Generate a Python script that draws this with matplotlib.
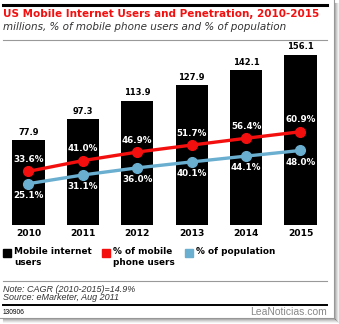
import matplotlib
matplotlib.use('Agg')
import matplotlib.pyplot as plt
from matplotlib.patches import Rectangle
from matplotlib.lines import Line2D

years = ['2010', '2011', '2012', '2013', '2014', '2015']
users = [77.9, 97.3, 113.9, 127.9, 142.1, 156.1]
pct_phone = [33.6, 41.0, 46.9, 51.7, 56.4, 60.9]
pct_pop = [25.1, 31.1, 36.0, 40.1, 44.1, 48.0]

W, H = 339, 324
RED = '#f40f0f'
BLUE = '#6aaed0'
FONT = 'DejaVu Sans'
NOTE_FONT = 'Liberation Sans'


def fx(px):
	return px / W


def fy(py):
	return 1 - py / H


def main():
	fig = plt.figure(figsize=(W / 100, H / 100), dpi=100)
	fig.patch.set_facecolor('white')

	# header rules and titles
	fig.add_artist(Line2D([fx(3), fx(327)], [fy(4.5), fy(4.5)], color='black', lw=2.2))
	fig.text(fx(3), fy(14), 'US Mobile Internet Users and Penetration, 2010-2015',
		color=RED, fontsize=7.45, fontweight='bold', family=FONT, va='center')
	fig.text(fx(3), fy(27), 'millions, % of mobile phone users and % of population',
		color='#333333', fontsize=7.45, style='italic', family=FONT, va='center')
	fig.add_artist(Line2D([fx(3), fx(327)], [fy(39.5), fy(39.5)], color='#999999', lw=0.8))

	# bars
	ax = fig.add_axes([fx(1.3), fy(225), fx(326.4), 180 / H])
	x = list(range(len(years)))
	ax.bar(x, users, width=0.59, color='black', zorder=1)
	for xi, v in zip(x, users):
		ax.text(xi, v + 3, f'{v:.1f}', ha='center', va='bottom', fontsize=6,
			fontweight='bold', family=FONT)
	ax.set_xlim(-0.5, 5.5)
	ax.set_ylim(0, 165)
	ax.set_yticks([])
	ax.set_xticks(x)
	ax.set_xticklabels(years, fontsize=6.6, fontweight='bold', family=FONT)
	ax.tick_params(axis='x', length=0, pad=3)
	for s in ax.spines.values():
		s.set_visible(False)

	# penetration lines on their own scale
	ax2 = ax.twinx()
	ax2.plot(x, pct_phone, color=RED, lw=2.4, marker='o', ms=7, zorder=3)
	ax2.plot(x, pct_pop, color=BLUE, lw=2.4, marker='o', ms=7, zorder=3)
	for xi, v in zip(x, pct_phone):
		ax2.text(xi, v + 5, f'{v:.1f}%', ha='center', va='bottom', color='white',
			fontsize=6.3, fontweight='bold', family=FONT)
	for xi, v in zip(x, pct_pop):
		ax2.text(xi, v - 5, f'{v:.1f}%', ha='center', va='top', color='white',
			fontsize=6.3, fontweight='bold', family=FONT)
	ax2.set_ylim(-3.4, 120.7)
	ax2.set_yticks([])
	for s in ax2.spines.values():
		s.set_visible(False)

	# legend
	items = [(3, 'black', 'Mobile internet\nusers'),
		(102, RED, '% of mobile\nphone users'),
		(185, BLUE, '% of population')]
	for lx, c, label in items:
		fig.add_artist(Rectangle((fx(lx), fy(256.5)), fx(8), 8 / H, color=c))
		fig.text(fx(lx + 11), fy(247.5), label, fontsize=6.4, fontweight='bold',
			family=FONT, va='top', linespacing=1.2)

	# footer
	fig.add_artist(Line2D([fx(3), fx(327)], [fy(281), fy(281)], color='#999999', lw=0.8))
	fig.text(fx(3), fy(289), 'Note: CAGR (2010-2015)=14.9%', fontsize=6.5,
		style='italic', color='#333333', family=NOTE_FONT, va='center')
	fig.text(fx(3), fy(298), 'Source: eMarketer, Aug 2011', fontsize=6.5,
		style='italic', color='#333333', family=NOTE_FONT, va='center')
	fig.add_artist(Line2D([fx(3), fx(327)], [fy(305), fy(305)], color='black', lw=1.4))
	fig.text(fx(3), fy(312), '130906', fontsize=4.8, family=NOTE_FONT, va='center')
	fig.text(fx(327), fy(312), 'LeaNoticias.com', fontsize=7.5, color='#888888',
		family=NOTE_FONT, va='center', ha='right')

	# frame with a soft shadow on the right and bottom
	fig.add_artist(Line2D([fx(333.5), fx(333.5)], [fy(0), fy(317.5)], color='#9a9a9a', lw=0.8))
	fig.add_artist(Line2D([fx(0), fx(333.5)], [fy(317.5), fy(317.5)], color='#9a9a9a', lw=0.8))
	for i, a in enumerate([0.45, 0.3, 0.18, 0.08]):
		off = 1.5 + i
		fig.add_artist(Line2D([fx(333.5 + off), fx(333.5 + off)], [fy(3), fy(317.5 + off)],
			color='black', alpha=a * 0.6, lw=0.8))
		fig.add_artist(Line2D([fx(3), fx(333.5 + off)], [fy(317.5 + off), fy(317.5 + off)],
			color='black', alpha=a * 0.6, lw=0.8))

	fig.savefig('out.png', dpi=100, facecolor='white')


if __name__ == '__main__':
	main()
